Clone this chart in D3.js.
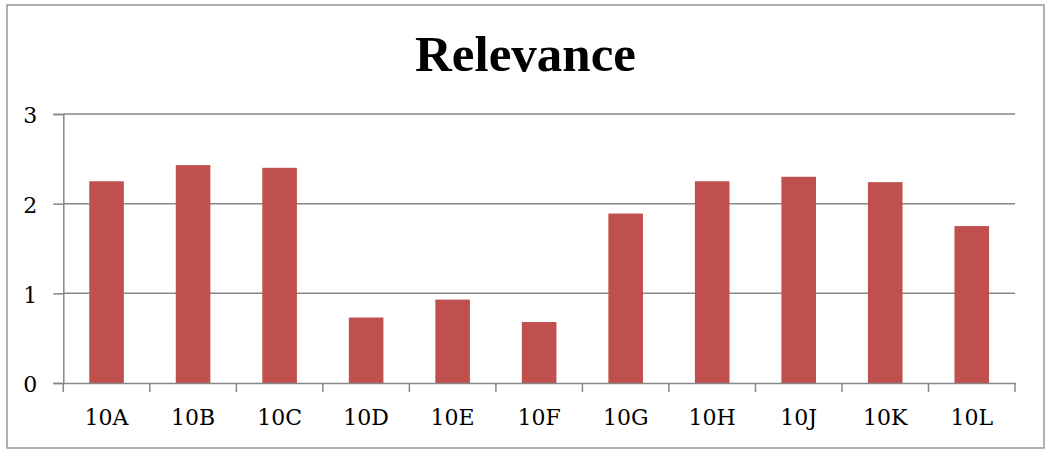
<!DOCTYPE html>
<html><head><meta charset="utf-8">
<script src="https://cdn.jsdelivr.net/npm/d3@7"></script>
<style>
html,body{margin:0;padding:0;background:#fff;}
svg{display:block;}
text{font-family:"Liberation Serif","DejaVu Serif",serif;fill:#000;}
.lbl{font-family:"DejaVu Serif",serif;font-size:22px;}
</style></head>
<body><svg id="c" width="1046" height="449"></svg>
<script>
const categories = ["10A","10B","10C","10D","10E","10F","10G","10H","10J","10K","10L"];
const values = [2.25,2.43,2.40,0.73,0.93,0.68,1.89,2.25,2.30,2.24,1.75];
const yTicks = [0,1,2,3];
const title = "Relevance";

const svg = d3.select("#c");
const pLeft = 63.3, pRight = 1015, pTop = 114, pBottom = 383;

svg.append("rect").attr("x",7).attr("y",5).attr("width",1037).attr("height",443)
  .attr("fill","#fff").attr("stroke","#878787").attr("stroke-width",1.3);

svg.append("text").attr("x",525.5).attr("y",71).attr("text-anchor","middle")
  .style("font-size","51px").style("font-weight","bold").text(title);

const x = d3.scaleBand().domain(categories).range([pLeft,pRight]).paddingInner(0.6).paddingOuter(0.3);
const y = d3.scaleLinear().domain([0,3]).range([pBottom,pTop]);

// gridlines
svg.append("g").selectAll("line").data(yTicks.filter(d=>d>0)).join("line")
  .attr("x1",pLeft).attr("x2",pRight).attr("y1",d=>y(d)).attr("y2",d=>y(d))
  .attr("stroke","#878787").attr("stroke-width",1.5);

// bars
svg.append("g").selectAll("rect").data(values).join("rect")
  .attr("x",(d,i)=>x(categories[i])).attr("width",x.bandwidth())
  .attr("y",d=>y(d)).attr("height",d=>y(0)-y(d)).attr("fill","#C0504D");

// y axis
const yAxis = svg.append("g").attr("transform",`translate(${pLeft},0)`)
  .call(d3.axisLeft(y).tickValues(yTicks).tickSize(10).tickPadding(16).tickFormat(d3.format("d")));
yAxis.attr("font-family",null).attr("font-size",null);
yAxis.select(".domain").attr("stroke","#878787").attr("stroke-width",1.5);
yAxis.selectAll(".tick line").attr("stroke","#878787").attr("stroke-width",1.5);
yAxis.selectAll(".tick text").attr("class","lbl").attr("dy","0.4em");

// x axis with ticks at category boundaries
const xAxis = svg.append("g").attr("transform",`translate(0,${pBottom})`)
  .call(d3.axisBottom(x).tickSize(0).tickPadding(26));
xAxis.attr("font-family",null).attr("font-size",null);
xAxis.select(".domain").attr("stroke","#878787").attr("stroke-width",1.5);
xAxis.selectAll(".tick text").attr("class","lbl");
const bounds = d3.range(categories.length+1).map(i=> pLeft + i*(pRight-pLeft)/categories.length);
xAxis.append("g").selectAll("line").data(bounds).join("line")
  .attr("x1",d=>d).attr("x2",d=>d).attr("y1",0).attr("y2",9)
  .attr("stroke","#878787").attr("stroke-width",1.5);
svg.selectAll(".tick text").style("fill","#000");
</script></body></html>
